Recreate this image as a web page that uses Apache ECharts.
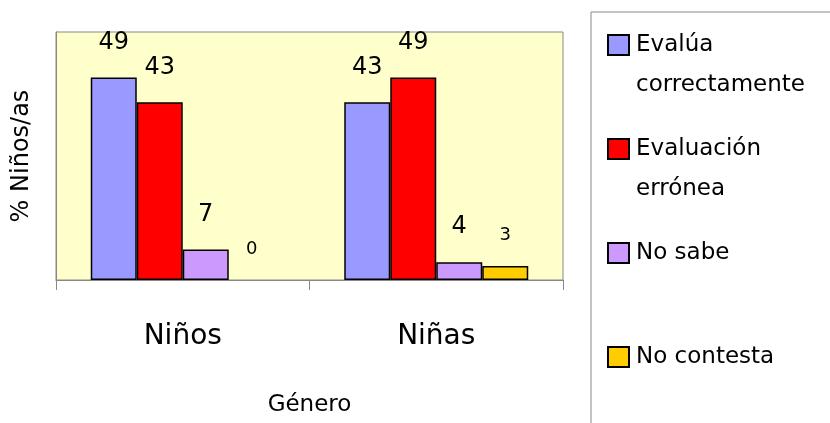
<!DOCTYPE html>
<html><head><meta charset="utf-8">
<script src="https://cdn.jsdelivr.net/npm/echarts@6/dist/echarts.min.js"></script>
<style>html,body{margin:0;padding:0;background:#fff}#c{width:830px;height:423px}</style>
</head><body><div id="c"></div>
<script>
var categories = ['Niños', 'Niñas'];
var seriesNames = ['Evalúa correctamente', 'Evaluación errónea', 'No sabe', 'No contesta'];
var legendLines = {
  'Evalúa correctamente': ' \nEvalúa\ncorrectamente',
  'Evaluación errónea': ' \nEvaluación\nerrónea',
  'No sabe': ' \nNo sabe\n ',
  'No contesta': ' \nNo contesta\n '
};
var evaluaCorrectamente = [49, 43];
var evaluacionErronea = [43, 49];
var noSabe = [7.4, 4.3];
var noContesta = [0, 3.4];
var colors = ['#9999FF', '#FF0000', '#CC99FF', '#FFCC00'];
var FONT = 'DejaVu Sans';

var values = [evaluaCorrectamente, evaluacionErronea, noSabe, noContesta];
var chart = echarts.init(document.getElementById('c'));
chart.setOption({
  animation: false,
  textStyle: {fontFamily: FONT, color: '#000'},
  grid: {left: 56, top: 32, right: 267, bottom: 143, show: true,
         backgroundColor: '#FFFFCC', borderColor: '#888', borderWidth: 1},
  legend: {
    orient: 'vertical', left: 607, top: -15, padding: 0, itemGap: -16,
    itemWidth: 21, itemHeight: 20, icon: 'rect',
    data: seriesNames,
    formatter: function (n) { return legendLines[n]; },
    textStyle: {fontFamily: FONT, fontSize: 23, lineHeight: 40, color: '#000', padding: [0, 0, 0, 2]}
  },
  graphic: [{type: 'rect', shape: {x: 591, y: 12, width: 300, height: 500},
             style: {fill: 'none', stroke: '#888', lineWidth: 1}, z: -1}],
  xAxis: {
    type: 'category', data: categories,
    axisLine: {lineStyle: {color: '#888', width: 1}},
    axisTick: {show: true, length: 10, inside: false, lineStyle: {color: '#888', width: 1}},
    axisLabel: {fontSize: 28, margin: 43, color: '#000', fontFamily: FONT},
    name: 'Género', nameLocation: 'middle', nameGap: 114,
    nameTextStyle: {fontSize: 23, color: '#000', fontFamily: FONT}
  },
  yAxis: {
    type: 'value', min: 0, max: 60,
    axisLine: {show: true, lineStyle: {color: '#888'}},
    axisTick: {show: false}, axisLabel: {show: false}, splitLine: {show: false},
    name: '% Niños/as', nameLocation: 'middle', nameGap: 22,
    nameTextStyle: {fontSize: 24, color: '#000', fontFamily: FONT}
  },
  series: seriesNames.map(function (n, i) {
    return {
      name: n, type: 'bar', barWidth: 46, barGap: '0%',
      data: values[i].map(function (v) {
        return v === 0 ? {value: v, itemStyle: {borderWidth: 0}} : v;
      }),
      itemStyle: {color: colors[i], borderColor: '#000', borderWidth: 1.5},
      label: {show: true, position: 'top', distance: i === 3 ? 22 : 23,
              fontSize: i === 3 ? 18 : 24, color: '#000', fontFamily: FONT,
              formatter: function (p) { return Math.round(p.value); }}
    };
  })
});
</script></body></html>
